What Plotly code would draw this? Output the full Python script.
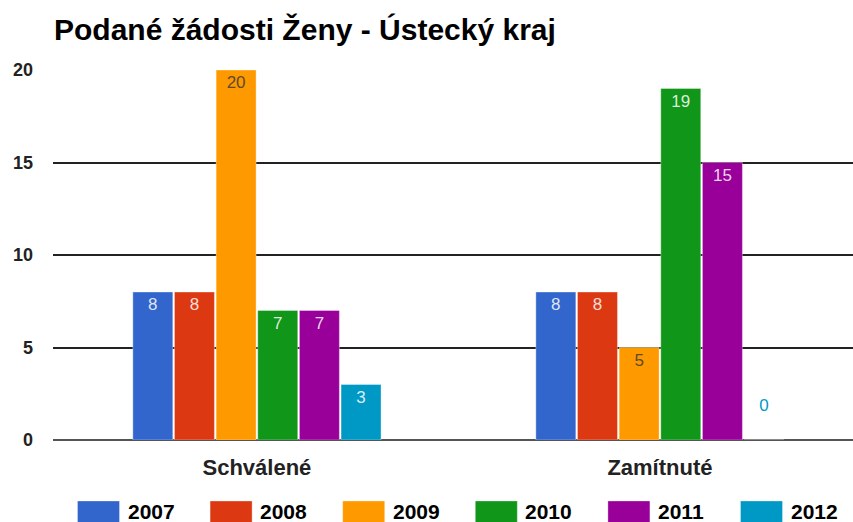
import plotly.graph_objects as go

categories = ["Schválené", "Zamítnuté"]
years = ["2007", "2008", "2009", "2010", "2011", "2012"]
values_2007 = [8, 8]
values_2008 = [8, 8]
values_2009 = [20, 5]
values_2010 = [7, 19]
values_2011 = [7, 15]
values_2012 = [3, 0]
series = [values_2007, values_2008, values_2009, values_2010, values_2011, values_2012]
colors = ["#3366cc", "#dc3912", "#ff9900", "#109618", "#990099", "#0099c6"]
label_colors = ["rgba(255,255,255,0.85)", "rgba(255,255,255,0.85)", "#5e4a2c",
                "rgba(255,255,255,0.85)", "rgba(255,255,255,0.85)", "rgba(255,255,255,0.85)"]
title_text = "Podané žádosti Ženy - Ústecký kraj"
y_ticks = [0, 5, 10, 15, 20]

FONT = "Liberation Sans, Arial, sans-serif"
W, H = 853, 522
ML, MR, MT, MB = 53, 0, 70, 82
PW, PH = W - ML - MR, H - MT - MB

fig = go.Figure()
for yr, vals, col, lcol in zip(years, series, colors, label_colors):
    texts, positions, tcolors = [], [], []
    for v in vals:
        if v == 0:
            texts.append(f"{v}<br> ")
            positions.append("outside")
            tcolors.append(col)
        else:
            texts.append(str(v))
            positions.append("inside")
            tcolors.append(lcol)
    fig.add_trace(go.Bar(
        x=categories, y=vals, name=yr,
        marker=dict(color=col, line=dict(color="rgba(255,255,255,0.35)", width=1)),
        text=texts, textposition=positions, insidetextanchor="end",
        textfont=dict(family=FONT, size=17, color=tcolors),
        textangle=0, cliponaxis=False, showlegend=False,
    ))

# custom legend (large swatches like reference)
shapes, annots = [], []
for i, (yr, col) in enumerate(zip(years, colors)):
    x0 = 77.5 + i * 132.6
    shapes.append(dict(type="rect", xref="paper", yref="paper",
                       x0=(x0 - ML) / PW, x1=(x0 + 42 - ML) / PW,
                       y0=(MT + PH - 526) / PH, y1=(MT + PH - 501) / PH,
                       fillcolor=col, line=dict(color="rgba(255,255,255,0.3)", width=1), layer="above"))
    annots.append(dict(xref="paper", yref="paper", x=(x0 + 48 - ML) / PW,
                       y=(MT + PH - 511) / PH, xanchor="left", yanchor="middle",
                       text=yr, showarrow=False,
                       font=dict(family=FONT, size=21, color="#000", weight="bold")))

fig.update_layout(
    width=W, height=H,
    margin=dict(l=ML, r=MR, t=MT, b=MB, pad=0),
    paper_bgcolor="white", plot_bgcolor="white",
    barmode="group", bargap=0.38, bargroupgap=0.04,
    title=dict(text=title_text, x=54 / W, xanchor="left", xref="container",
               y=1 - 29 / H, yanchor="middle", yref="container",
               font=dict(family=FONT, size=30, color="#000", weight="bold")),
    shapes=shapes, annotations=annots,
)
fig.update_xaxes(range=[-0.506, 1.479], showgrid=False, showline=False, zeroline=False,
                 tickfont=dict(family=FONT, size=22, color="#222", weight="bold"),
                 ticks="", ticklabelstandoff=12)
fig.update_yaxes(range=[0, 20], tickvals=y_ticks, showgrid=True, gridcolor="#222", gridwidth=1.5,
                 zeroline=True, zerolinecolor="#555", zerolinewidth=2, showline=False,
                 tickfont=dict(family=FONT, size=18, color="#222", weight="bold"),
                 ticks="", ticklabelstandoff=19)

fig.write_html("out.html", config={"displayModeBar": False},
               post_script="document.body.style.margin='0';document.body.style.overflow='hidden';")
